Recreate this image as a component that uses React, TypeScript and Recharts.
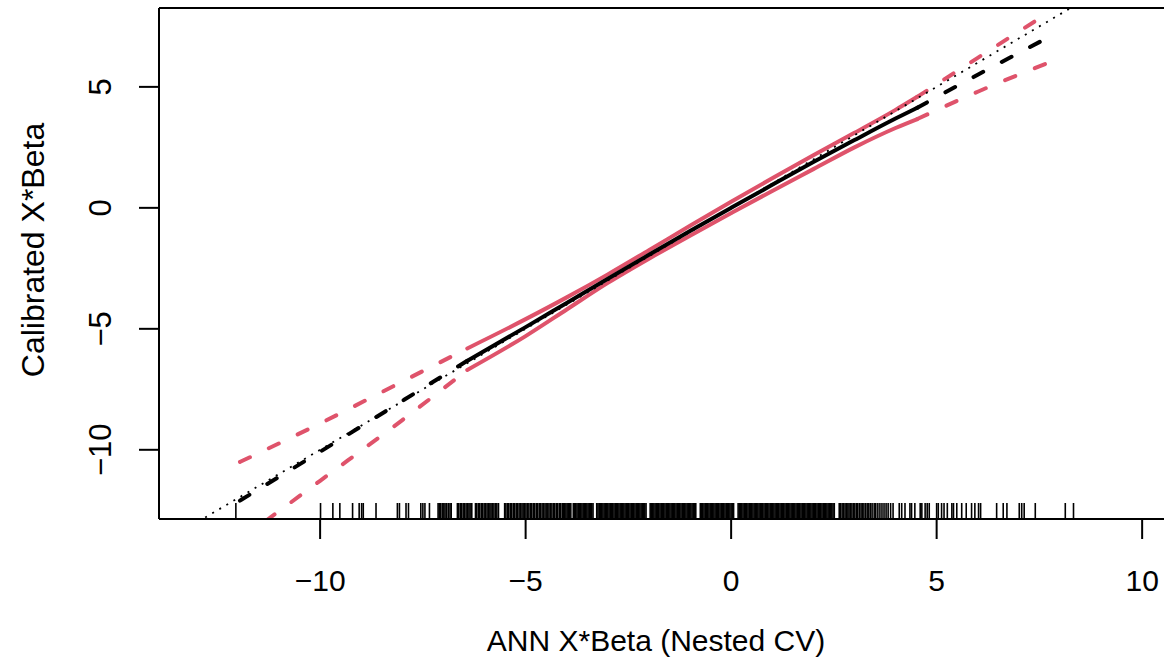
import React from "react";
import {
  ComposedChart,
  Line,
  Scatter,
  XAxis,
  YAxis,
  ReferenceLine,
  Label,
} from "recharts";

// axis setup
const xDomain = [-13.92, 11.14];
const yDomain = [-12.86, 8.26];
const xTicks = [-10, -5, 0, 5, 10];
const yTicks = [-10, -5, 0, 5];

// smoothed calibration curve with its confidence band
const curveX = [-11.95, -10, -8, -6.42, -5, -4, -3, -2, -1, 0, 1, 2, 3, 4, 4.53, 6, 7.8];
const calibrated = [-12.1, -10.08, -7.98, -6.32, -4.93, -3.93, -2.93, -1.94, -0.96, 0, 0.95, 1.89, 2.8, 3.69, 4.14, 5.5, 7.12];
const upperCI = [-10.5, -8.91, -7.18, -5.81, -4.6, -3.7, -2.75, -1.75, -0.74, 0.25, 1.22, 2.17, 3.1, 4.05, 4.59, 6.2, 8.15];
const lowerCI = [-13.73, -11.28, -8.77, -6.7, -5.3, -4.2, -3.1, -2.1, -1.15, -0.22, 0.7, 1.6, 2.5, 3.3, 3.67, 4.8, 6.05];
// range where the fit is drawn solid (dashed outside)
const solidRange = [-6.42, 4.53];

// ideal line y = x
const identityEnds = [-14, 12];

// rug of the predictor values
const rugX = [
  -12.05, -9.99, -9.69, -9.52, -9.21, -9.05, -8.99, -8.95, -8.64, -8.12, -8.07, -7.91, -7.85,
  -7.55, -7.5, -7.45, -7.34,
  -7.13, -7.1, -7.07, -7.03, -6.99, -6.96, -6.92, -6.88, -6.84, -6.81, -6.66, -6.63, -6.59,
  -6.56, -6.52, -6.49, -6.45, -6.42, -6.38, -6.35, -6.31, -6.22, -6.19, -6.15, -6.12, -6.08,
  -6.05, -6.01, -5.98, -5.94, -5.91, -5.87, -5.84, -5.8, -5.77, -5.73, -5.7, -5.66, -5.51,
  -5.48, -5.44, -5.41, -5.37, -5.34, -5.3, -5.27, -5.23, -5.2, -5.16, -5.13, -5.09, -5.06,
  -5.02, -4.99, -4.95, -4.92, -4.88, -4.85, -4.81, -4.78, -4.74, -4.71, -4.67, -4.64, -4.6,
  -4.57, -4.53, -4.5, -4.46, -4.43, -4.39, -4.36, -4.32, -4.29, -4.25, -4.22, -4.18, -4.15,
  -4.11, -4.08, -4.05, -4.02,
  -3.99, -3.96, -3.93, -3.9, -3.84, -3.81, -3.78, -3.75, -3.72, -3.69, -3.66, -3.63, -3.6,
  -3.57, -3.54, -3.51, -3.48, -3.45, -3.42, -3.39, -3.36, -3.27, -3.24, -3.21, -3.18, -3.15,
  -3.12, -3.09, -3.06, -3.03, -3.0, -2.97, -2.94, -2.91, -2.88, -2.85, -2.82, -2.79, -2.76,
  -2.73, -2.7, -2.67, -2.64, -2.61, -2.58, -2.55, -2.52, -2.49, -2.46, -2.43, -2.4, -2.37,
  -2.34, -2.31, -2.28, -2.25, -2.22, -2.19, -2.16, -2.13, -2.1, -2.07, -1.97, -1.94, -1.91,
  -1.88, -1.85, -1.82, -1.79, -1.76, -1.73, -1.7, -1.67, -1.64, -1.61, -1.58, -1.55, -1.52,
  -1.49, -1.46, -1.43, -1.4, -1.37, -1.34, -1.31, -1.28, -1.25, -1.22, -1.19, -1.16, -1.13,
  -1.1, -1.07, -1.04, -1.01, -0.98, -0.95, -0.92, -0.89, -0.86, -0.75, -0.72, -0.69, -0.66,
  -0.63, -0.6, -0.57, -0.54, -0.51, -0.48, -0.45, -0.42, -0.39, -0.36, -0.33, -0.3, -0.27,
  -0.24, -0.21, -0.18, -0.15, -0.12, -0.09, -0.06, -0.03, 0.0, 0.03, 0.06, 0.17, 0.2, 0.23,
  0.26, 0.29, 0.32, 0.35, 0.38, 0.41, 0.44, 0.47, 0.5, 0.53, 0.56, 0.59, 0.62, 0.65, 0.68,
  0.71, 0.74, 0.77, 0.8, 0.83, 0.86, 0.89, 0.92, 0.95, 0.98, 1.01, 1.04, 1.07, 1.1, 1.13,
  1.16, 1.19, 1.22, 1.25, 1.28, 1.31, 1.34, 1.37, 1.4, 1.43, 1.46, 1.49, 1.52, 1.55, 1.58,
  1.61, 1.64, 1.67, 1.7, 1.73, 1.76, 1.79, 1.82, 1.85, 1.88, 1.91, 1.94, 1.97, 2.0, 2.03,
  2.06, 2.09, 2.12, 2.15, 2.18, 2.21, 2.24, 2.27, 2.3, 2.33, 2.36, 2.39, 2.42, 2.45, 2.48,
  2.51, 2.63, 2.66, 2.7, 2.73, 2.77, 2.8, 2.84, 2.87, 2.91, 2.94, 2.98, 3.01, 3.05, 3.08,
  3.12, 3.16, 3.19, 3.23, 3.27, 3.31, 3.35, 3.39, 3.43, 3.48, 3.52, 3.57, 3.62, 3.67, 3.72,
  3.77, 3.82, 3.88, 3.94,
  4.09, 4.15, 4.23, 4.35, 4.39, 4.47, 4.6, 4.64, 4.72, 4.77, 4.82, 5.0, 5.04, 5.12, 5.18,
  5.26, 5.37, 5.41, 5.49, 5.61, 5.72, 5.85, 5.93, 6.02, 6.07, 6.46, 6.62, 6.71, 7.01, 7.07,
  7.13, 7.4, 8.13, 8.33,
];

const RED = "#DF536B";
const FONT = "'Liberation Sans', Arial, Helvetica, sans-serif";

const inSolid = (x: number) => x >= solidRange[0] && x <= solidRange[1];
const solidRows = (vals: number[]) =>
  curveX.map((x, i) => ({ x, y: inSolid(x) ? vals[i] : null }));
const dashRows = (vals: number[]) =>
  curveX.map((x, i) => ({
    x,
    y: x <= solidRange[0] || x >= solidRange[1] ? vals[i] : null,
  }));

const fmt = (v: number) => (v < 0 ? "\u2212" + Math.abs(v) : String(v));

const XTick = (props: any) => (
  <text
    x={props.x}
    y={591}
    textAnchor="middle"
    fontSize={30}
    fontFamily={FONT}
    fill="#000"
  >
    {fmt(props.payload.value)}
  </text>
);

const YTick = (props: any) => (
  <text
    x={111}
    y={props.y}
    transform={`rotate(-90 111 ${props.y})`}
    textAnchor="middle"
    fontSize={31}
    fontFamily={FONT}
    fill="#000"
  >
    {fmt(props.payload.value)}
  </text>
);

const RugMark = (p: any) => (
  <line x1={p.cx} x2={p.cx} y1={p.cy - 16} y2={p.cy} stroke="#000" strokeWidth={1.6} />
);

export default function App() {
  const rugData = rugX.map((x) => ({ x, y: yDomain[0] }));
  const identity = identityEnds.map((v) => ({ x: v, y: v }));

  const lineProps = {
    dataKey: "y",
    type: "monotone" as const,
    dot: false,
    activeDot: false,
    isAnimationActive: false,
    strokeWidth: 4,
    strokeLinecap: "round" as const,
  };

  return (
    <div
      style={{
        position: "absolute",
        left: 0,
        top: 0,
        width: 1164,
        height: 670,
        overflow: "hidden",
        background: "#fff",
      }}
    >
      <ComposedChart
        width={1200}
        height={670}
        margin={{ top: 8, right: 11, bottom: 0, left: 0 }}
      >
        <XAxis
          type="number"
          dataKey="x"
          domain={xDomain}
          allowDataOverflow
          ticks={xTicks}
          interval={0}
          height={151}
          tickSize={20}
          axisLine={{ stroke: "#000", strokeWidth: 2 }}
          tickLine={{ stroke: "#000", strokeWidth: 2 }}
          tick={<XTick />}
        >
          <Label
            content={() => (
              <text
                x={656}
                y={651}
                textAnchor="middle"
                fontSize={30}
                fontFamily={FONT}
                fill="#000"
              >
                ANN X*Beta (Nested CV)
              </text>
            )}
          />
        </XAxis>
        <YAxis
          type="number"
          dataKey="y"
          domain={yDomain}
          allowDataOverflow
          ticks={yTicks}
          interval={0}
          width={159}
          tickSize={20}
          axisLine={{ stroke: "#000", strokeWidth: 2 }}
          tickLine={{ stroke: "#000", strokeWidth: 2 }}
          tick={<YTick />}
        >
          <Label
            content={() => (
              <text
                x={44}
                y={250}
                transform="rotate(-90 44 250)"
                textAnchor="middle"
                fontSize={32}
                fontFamily={FONT}
                fill="#000"
              >
                Calibrated X*Beta
              </text>
            )}
          />
        </YAxis>
        <ReferenceLine y={yDomain[1]} stroke="#000" strokeWidth={2} />

        <Scatter
          data={rugData}
          dataKey="y"
          shape={<RugMark />}
          isAnimationActive={false}
        />

        <Line {...lineProps} data={solidRows(upperCI)} stroke={RED} />
        <Line {...lineProps} data={dashRows(upperCI)} stroke={RED} strokeDasharray="11 21" />
        <Line {...lineProps} data={solidRows(lowerCI)} stroke={RED} />
        <Line {...lineProps} data={dashRows(lowerCI)} stroke={RED} strokeDasharray="11 21" />
        <Line {...lineProps} data={solidRows(calibrated)} stroke="#000" />
        <Line {...lineProps} data={dashRows(calibrated)} stroke="#000" strokeDasharray="11 21" />

        <Line
          data={identity}
          dataKey="y"
          type="linear"
          dot={false}
          activeDot={false}
          isAnimationActive={false}
          stroke="#000"
          strokeWidth={1.8}
          strokeDasharray="2 6.2"
        />
      </ComposedChart>
    </div>
  );
}
